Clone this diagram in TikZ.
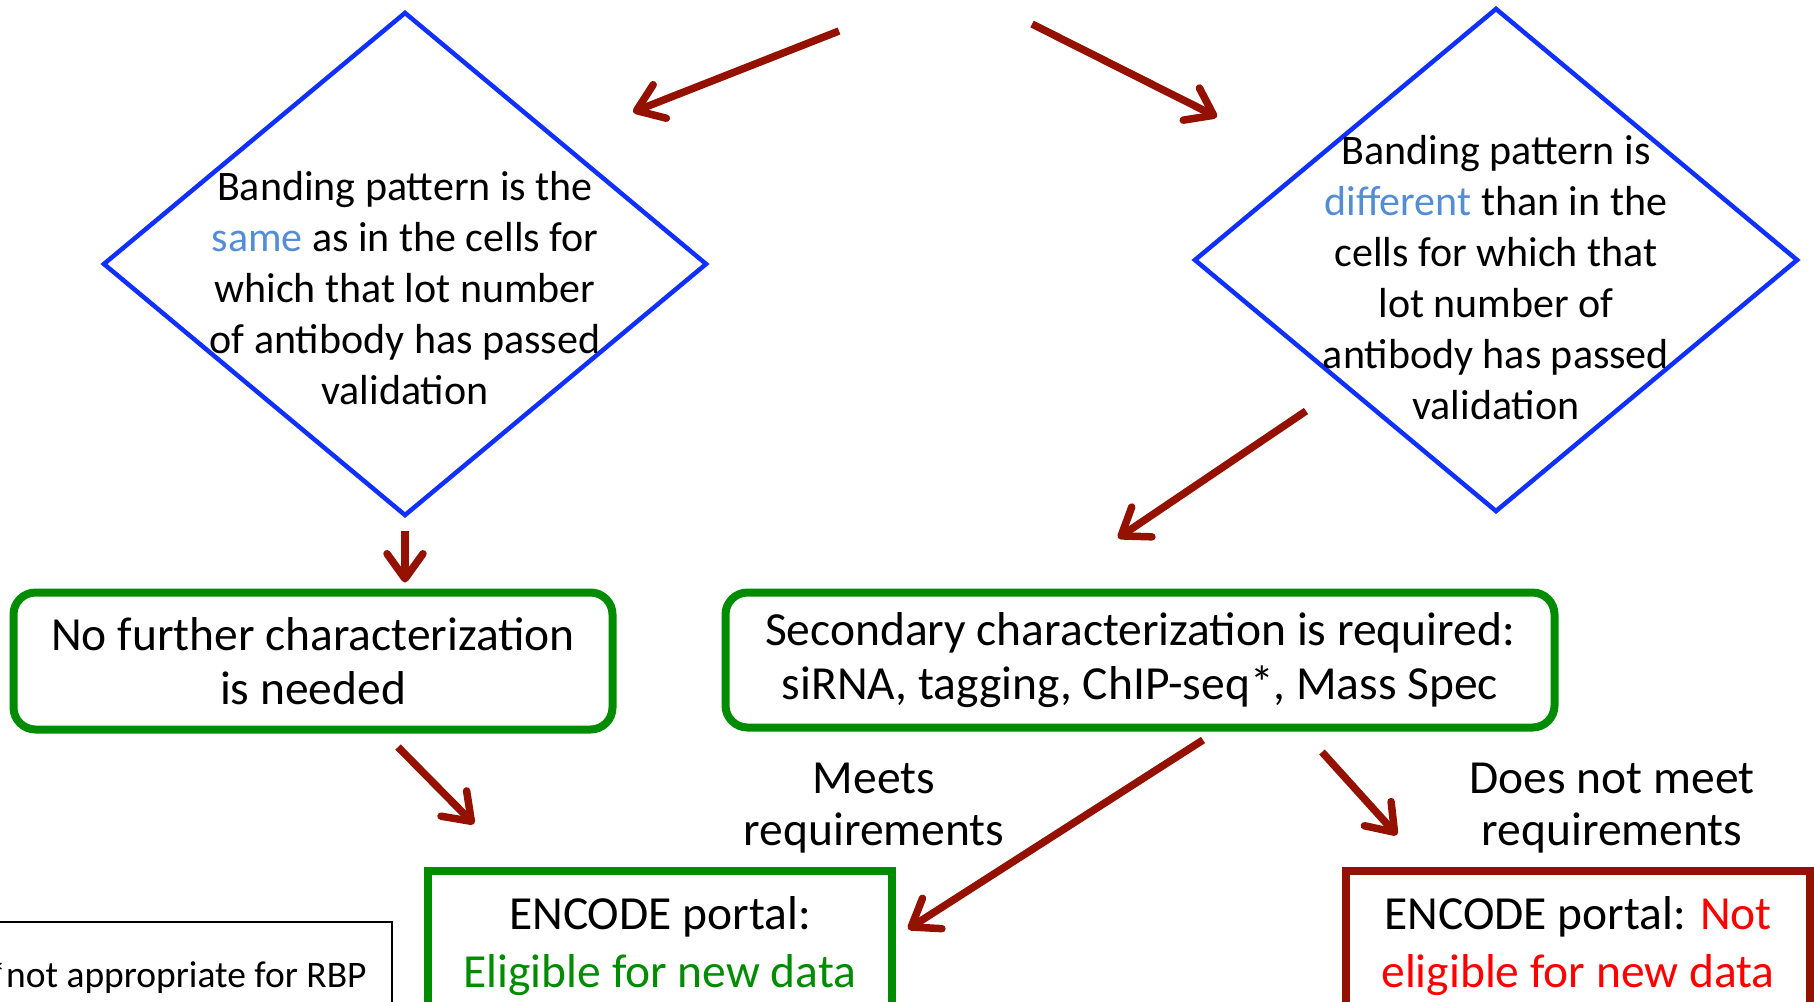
\documentclass[tikz,border=0pt]{standalone}
\usepackage{fontspec}
\setmainfont{Carlito}
\usetikzlibrary{shapes.geometric,arrows.meta,positioning}

\definecolor{diablue}{RGB}{16,48,255}
\definecolor{wordblue}{RGB}{84,141,212}
\definecolor{arrowred}{RGB}{148,17,0}
\definecolor{boxgreen}{RGB}{0,140,0}
\definecolor{notred}{RGB}{255,0,0}

\begin{document}
\begin{tikzpicture}[x=1pt, y=-1pt,
    decision/.style={diamond, draw=diablue, line width=4.5pt, minimum width=604pt, minimum height=504pt, inner sep=0pt},
    dtext/.style={align=center, font=\fontsize{42}{51}\selectfont},
    result/.style={rectangle, rounded corners=22pt, draw=boxgreen, line width=8pt, align=center, font=\fontsize{47.5}{54}\selectfont},
    portal/.style={rectangle, line width=8pt, align=center, minimum width=464pt, minimum height=150pt, font=\fontsize{47.5}{58}\selectfont},
    outcome/.style={align=center, font=\fontsize{47.5}{52}\selectfont},
    arrow/.style={draw=arrowred, line width=7.5pt, -{Straight Barb[length=25pt,width=36pt,round]}}
]
\useasboundingbox (0,0) rectangle (1814,1001);

% Decisions
\node[decision] (same) at (405,264) {};
\node[dtext] (sametxt) at (405,288) {Banding pattern is the\\
    \textcolor{wordblue}{same} as in the cells for\\
    which that lot number\\
    of antibody has passed\\
    validation};

\node[decision] (diff) at (1496,260) {};
\node[dtext] (difftxt) at (1496,278) {Banding pattern is\\
    \textcolor{wordblue}{different} than in the\\
    cells for which that\\
    lot number of\\
    antibody has passed\\
    validation};

% Characterization boxes
\node[result, minimum width=599pt, minimum height=137pt] (nofurther) at (313,661) {No further characterization\\ is needed};
\node[result, minimum width=829pt, minimum height=135pt] (secondary) at (1140,660) {Secondary characterization is required:\\ siRNA, tagging, ChIP-seq*, Mass Spec};

% Outcome labels
\node[outcome] (meets) at (874,808) {Meets\\ requirements};
\node[outcome] (notmeets) at (1612,808) {Does not meet\\ requirements};

% Portal boxes
\node[portal, draw=boxgreen] (eligible) at (660,946) {ENCODE portal:\\ \textcolor{boxgreen}{Eligible for new data}};
\node[portal, draw=arrowred] (noteligible) at (1578,946) {ENCODE portal: \textcolor{notred}{Not}\\ \textcolor{notred}{eligible for new data}};

% Footnote
\node[draw, line width=1.2pt, minimum width=430pt, minimum height=110pt, font=\fontsize{37.5}{44}\selectfont] (note) at (177,977) {*not appropriate for RBP};

% Arrows
\coordinate (a1s) at (839,31);
\coordinate (a1e) at (633,112);
\coordinate (a2s) at (1032,24);
\coordinate (a2e) at (1217,117);
\coordinate (a4s) at (1306,411);
\coordinate (a4e) at (1118,538);
\coordinate (a5s) at (398,747);
\coordinate (a5e) at (474,824);
\coordinate (a6s) at (1203,740);
\coordinate (a6e) at (908,929);
\coordinate (a7s) at (1322,752);
\coordinate (a7e) at (1397,835);

\draw[arrow] (a1s) -- (a1e);
\draw[arrow] (a2s) -- (a2e);
\draw[arrow, shorten <=13pt, shorten >=6pt] (same.south) -- (same.south |- nofurther.north);
\draw[arrow] (a4s) -- (a4e);
\draw[arrow] (a5s) -- (a5e);
\draw[arrow] (a6s) -- (a6e);
\draw[arrow] (a7s) -- (a7e);

\end{tikzpicture}
\end{document}
